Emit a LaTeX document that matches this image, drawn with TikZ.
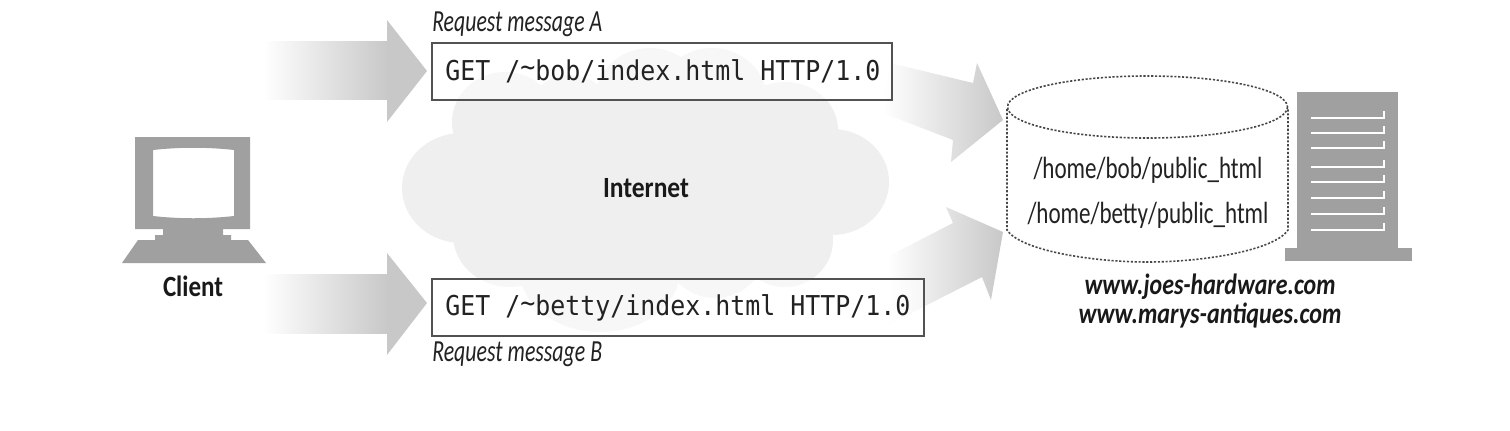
\documentclass[tikz,border=0pt]{standalone}
\usepackage{fontspec}
\usepackage{graphicx}
\setmainfont{Carlito}
\newfontfamily\monofam{DejaVu Sans Mono}
\newcommand\fitx[2]{\setbox0\hbox{#2}\pgfmathsetmacro\fitr{#1*0.75/\the\wd0}\scalebox{\fitr}[1]{#2}}
\definecolor{cloudc}{HTML}{EFEFEF}
\definecolor{arrowc}{HTML}{C8C8C8}
\definecolor{iconc}{HTML}{A0A0A0}
\definecolor{inkc}{HTML}{222222}
\tikzset{
  cloudlobe/.style={fill=cloudc,draw=none},
  blockarrow/.style={draw=none,shade,left color=white,right color=arrowc},
  msgbox/.style={draw=black!68,line width=1.7pt,fill=white,fill opacity=0.55,text opacity=1,rectangle,minimum height=42.5pt,inner sep=0pt,anchor=north west,text=inkc},
  reqtext/.style={font=\monofam\fontsize{20.5pt}{20.5pt}\selectfont,text=inkc,inner sep=0pt,anchor=west},
  captiontext/.style={font=\fontsize{23pt}{23pt}\selectfont\itshape,text=inkc,inner sep=0pt},
  boldlabel/.style={font=\fontsize{22pt}{22pt}\selectfont\bfseries,text=black!90,inner sep=0pt},
  boldital/.style={font=\fontsize{22pt}{22pt}\selectfont\bfseries\itshape,text=black!90,inner sep=0pt},
  pathtext/.style={font=\fontsize{23pt}{23pt}\selectfont,text=inkc,inner sep=0pt},
  rackline/.style={draw=white,line width=2.2pt},
  dotline/.style={draw=black!72,line width=1.2pt,dash pattern=on 1.6pt off 1.3pt},
}
\begin{document}
\begin{tikzpicture}[x=0.75pt,y=-0.75pt]
\useasboundingbox (0,0) rectangle (1510,430);
\fill[white] (0,0) rectangle (1510,430);
% cloud
\fill[cloudc] (470,110) rectangle (800,250);
\foreach \cx/\cy/\rx/\ry in {462/188/60/55,832/182/57/53,505/122/53/50,570/120/45/45,650/100/55/52,712/100/55/52,785/130/53/48,510/235/57/52,600/270/80/62,715/250/50/48,785/240/48/47}
  \fill[cloudlobe] (\cx,\cy) ellipse [x radius=\rx, y radius=\ry];
\node[boldlabel] (internet) at (646,188) {\fitx{86}{Internet}};
% left arrows
\path[blockarrow] (263,41) rectangle (388,99);
\fill[arrowc] (387,20) -- (427,71) -- (387,122) -- cycle;
\path[blockarrow] (263,274) rectangle (388,333);
\fill[arrowc] (387,253) -- (427,303) -- (387,355) -- cycle;
% right arrows
\path[blockarrow,shading angle=108,left color=white,right color=arrowc] (890,63) -- (973,83) -- (977,63) -- (1003,120) -- (951,162) -- (953,140) -- (883,113) -- cycle;
\path[blockarrow,shading angle=60,left color=white,right color=arrowc] (887,257) -- (953,223) -- (946,207) -- (1003,232) -- (991,300) -- (982,277) -- (923,307) -- (887,325) -- cycle;
% boxes
\node[msgbox,minimum width=345pt] (boxa) at (431,42) {};
\node[msgbox,minimum width=369pt] (boxb) at (431,278) {};
\node[reqtext] (texta) at (445,71) {\scalebox{0.912}[1]{GET /\raisebox{0.12em}{\char`\~}bob/index.html HTTP/1.0}};
\node[reqtext] (textb) at (445,308) {\scalebox{0.912}[1]{GET /\raisebox{0.12em}{\char`\~}betty/index.html HTTP/1.0}};
\node[captiontext,anchor=west] (capa) at (432,24) {\fitx{170}{Request message A}};
\node[captiontext,anchor=west] (capb) at (432,354) {\fitx{170}{Request message B}};
% computer
\fill[iconc,even odd rule] (135,137) rectangle (250,229)
  (153,150) .. controls (180,147) and (207,147) .. (234,150) -- (234,216) .. controls (207,219) and (180,219) .. (153,216) -- cycle;
\fill[iconc] (163,229) -- (223,229) -- (223,235) -- (231,235) -- (231,240) -- (248,240) -- (266,263) -- (122,263) -- (138,240) -- (155,240) -- (155,235) -- (163,235) -- cycle;
\node[boldlabel] (client) at (193,286) {\fitx{60}{Client}};
% cylinder
\draw[dotline] (1147.5,107) ellipse [x radius=140, y radius=31];
\draw[dotline] (1007,109) -- (1007,230) .. controls (1020,250) and (1090,262) .. (1147.5,262) .. controls (1205,262) and (1275,250) .. (1288,230) -- (1288,109);
\node[pathtext] (bobpath) at (1148,170) {\fitx{229}{/home/bob/public\_html}};
\node[pathtext] (bettypath) at (1148,215) {\fitx{241}{/home/betty/public\_html}};
% server
\fill[iconc] (1297,92) rectangle (1398,248);
\fill[iconc] (1285,248) rectangle (1412,261);
\foreach \ly in {118,133,148,167,182,198,214,230}
  \draw[rackline] (1311,\ly) -- (1384,\ly) -- (1384,\ly-7);
\node[boldital] (joes) at (1210,287) {\fitx{251}{www.joes-hardware.com}};
\node[boldital] (marys) at (1210,315) {\fitx{263}{www.marys-antiques.com}};
\end{tikzpicture}
\end{document}
